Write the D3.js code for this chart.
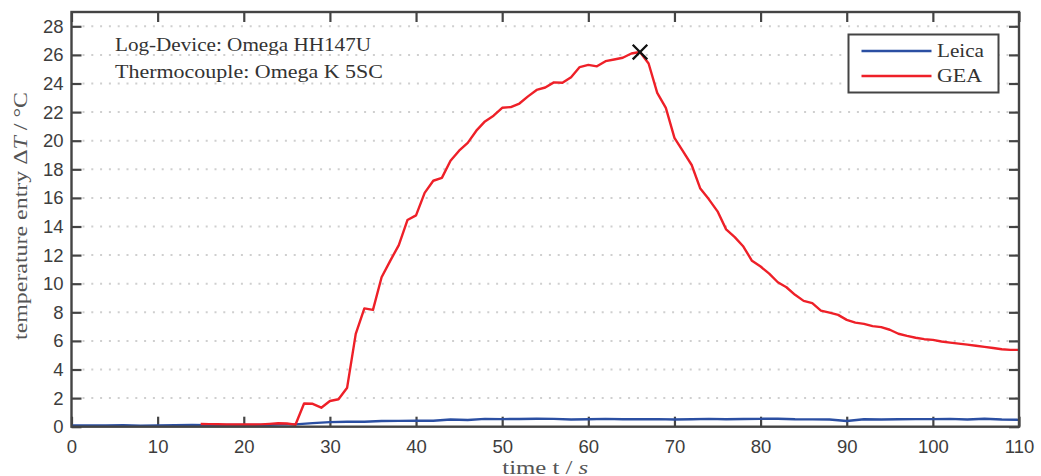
<!DOCTYPE html>
<html>
<head>
<meta charset="utf-8">
<script src="https://cdn.jsdelivr.net/npm/d3@7"></script>
<style>
  html, body { margin: 0; padding: 0; background: #fff; }
  svg { display: block; }
</style>
</head>
<body>
<svg id="chart" width="1041" height="476"></svg>
<script>
// ---- data ----
const leicaTime = [0,2,4,6,8,10,12,14,16,18,20,22,24,26,28,30,32,34,36,38,40,42,44,46,48,50,52,54,56,58,60,62,64,66,68,70,72,74,76,78,80,82,84,86,88,90,92,94,96,98,100,102,104,106,108,110];
const leicaTemp = [0.08,0.09,0.08,0.10,0.07,0.09,0.10,0.12,0.11,0.12,0.12,0.12,0.15,0.16,0.25,0.32,0.35,0.35,0.40,0.41,0.42,0.42,0.50,0.47,0.55,0.53,0.54,0.56,0.55,0.50,0.52,0.55,0.52,0.52,0.53,0.50,0.52,0.55,0.52,0.54,0.55,0.56,0.52,0.51,0.50,0.40,0.52,0.50,0.52,0.53,0.53,0.55,0.50,0.56,0.50,0.48];

const geaTime = [15,16,17,18,19,20,21,22,23,24,25,26,27,28,29,30,31,32,33,34,35,36,37,38,39,40,41,42,43,44,45,46,47,48,49,50,51,52,53,54,55,56,57,58,59,60,61,62,63,64,65,66,67,68,69,70,71,72,73,74,75,76,77,78,79,80,81,82,83,84,85,86,87,88,89,90,91,92,93,94,95,96,97,98,99,100,101,102,103,104,105,106,107,108,109,110];
const geaTemp = [0.19,0.18,0.17,0.15,0.15,0.15,0.15,0.16,0.20,0.24,0.22,0.14,1.62,1.60,1.33,1.80,1.92,2.73,6.49,8.27,8.17,10.45,11.6,12.7,14.45,14.78,16.35,17.2,17.4,18.6,19.3,19.85,20.7,21.35,21.75,22.3,22.35,22.6,23.1,23.55,23.72,24.08,24.05,24.44,25.15,25.3,25.2,25.56,25.68,25.8,26.1,26.2,25.4,23.35,22.3,20.2,19.26,18.3,16.65,15.9,15.06,13.8,13.26,12.6,11.6,11.2,10.7,10.1,9.75,9.22,8.8,8.64,8.12,7.98,7.82,7.47,7.28,7.19,7.03,6.96,6.78,6.5,6.35,6.22,6.12,6.07,5.96,5.88,5.81,5.74,5.66,5.58,5.5,5.42,5.37,5.37];

const peakTime = [66];
const peakTemp = [26.2];

const xTicks = [0,10,20,30,40,50,60,70,80,90,100,110];
const yTicks = [0,2,4,6,8,10,12,14,16,18,20,22,24,26,28];

const seriesNames = ["Leica", "GEA"];
const seriesColors = ["#2b4fa2", "#ee2028"];
const annotations = ["Log-Device: Omega HH147U", "Thermocouple: Omega K 5SC"];

// ---- layout ----
const L = 71.5, R = 1019, T = 12, B = 426.7;
const svg = d3.select("#chart");
const x = d3.scaleLinear().domain([0, 110]).range([L, R]);
const y = d3.scaleLinear().domain([0, 29]).range([B, T]);

const frameColor = "#444";
const sans = "'Liberation Sans', Arial, Helvetica, sans-serif";
const serif = "'Liberation Serif', 'Times New Roman', serif";

// grid (horizontal dotted)
svg.append("g").selectAll("line")
  .data(yTicks.filter(d => d > 0))
  .join("line")
  .attr("x1", L + 11).attr("x2", R - 1)
  .attr("y1", d => y(d)).attr("y2", d => y(d))
  .attr("stroke", "#cfcfcf").attr("stroke-width", 2)
  .attr("stroke-dasharray", "2,6.8");

// axes
function styleAxis(g, showLabels) {
  g.select(".domain").remove();
  g.selectAll(".tick line").attr("stroke", frameColor).attr("stroke-width", 2.2);
  g.selectAll(".tick text")
    .attr("fill", "#3d3d3d")
    .style("font-family", sans)
    .style("font-size", "18.5px");
  if (!showLabels) g.selectAll(".tick text").remove();
}

svg.append("g").attr("transform", `translate(0,${B})`)
  .call(d3.axisBottom(x).tickValues(xTicks).tickSize(-10).tickPadding(13).tickFormat(d3.format("d")))
  .call(g => styleAxis(g, true));
svg.append("g").attr("transform", `translate(0,${T})`)
  .call(d3.axisTop(x).tickValues(xTicks).tickSize(-10))
  .call(g => styleAxis(g, false));
svg.append("g").attr("transform", `translate(${L},0)`)
  .call(d3.axisLeft(y).tickValues(yTicks).tickSize(-10).tickPadding(8).tickFormat(d3.format("d")))
  .call(g => styleAxis(g, true));
svg.append("g").attr("transform", `translate(${R},0)`)
  .call(d3.axisRight(y).tickValues(yTicks).tickSize(-10))
  .call(g => styleAxis(g, false));

// lines
const line = d3.line().x(d => x(d[0])).y(d => y(d[1]));
svg.append("clipPath").attr("id", "clip")
  .append("rect").attr("x", L).attr("y", T).attr("width", R - L).attr("height", B - T);

svg.append("path")
  .datum(leicaTime.map((t, i) => [t, leicaTemp[i]]))
  .attr("d", line).attr("fill", "none")
  .attr("stroke", seriesColors[0]).attr("stroke-width", 2.4)
  .attr("stroke-linejoin", "round")
  .attr("clip-path", "url(#clip)");

svg.append("path")
  .datum(geaTime.map((t, i) => [t, geaTemp[i]]))
  .attr("d", line).attr("fill", "none")
  .attr("stroke", seriesColors[1]).attr("stroke-width", 2.4)
  .attr("stroke-linejoin", "round")
  .attr("clip-path", "url(#clip)");

// peak marker (x)
svg.append("path")
  .attr("d", d3.symbol(d3.symbolX, 140)())
  .attr("transform", `translate(${x(peakTime[0])},${y(peakTemp[0])})`)
  .attr("fill", "none").attr("stroke", "#111").attr("stroke-width", 2.3);

// frame
svg.append("rect")
  .attr("x", L).attr("y", T).attr("width", R - L).attr("height", B - T)
  .attr("fill", "none").attr("stroke", frameColor).attr("stroke-width", 2.4);

// annotations
svg.append("g").selectAll("text")
  .data(annotations)
  .join("text")
  .attr("x", 115)
  .attr("y", (d, i) => 50.7 + i * 27)
  .attr("textLength", (d, i) => i === 0 ? 256 : 268)
  .attr("lengthAdjust", "spacingAndGlyphs")
  .attr("fill", "#333")
  .style("font-family", serif)
  .style("font-size", "19.5px")
  .text(d => d);

// legend
const lg = svg.append("g");
lg.append("rect").attr("x", 848.5).attr("y", 34.5).attr("width", 150).attr("height", 58)
  .attr("fill", "#fff").attr("stroke", frameColor).attr("stroke-width", 2);
seriesNames.forEach((name, i) => {
  const yy = 51 + i * 25;
  lg.append("line").attr("x1", 861.5).attr("x2", 931.5).attr("y1", yy).attr("y2", yy)
    .attr("stroke", seriesColors[i]).attr("stroke-width", 2.4);
  lg.append("text").attr("x", 937).attr("y", yy + 5.5)
    .attr("textLength", i === 0 ? 47 : 45)
    .attr("lengthAdjust", "spacingAndGlyphs")
    .attr("fill", "#333")
    .style("font-family", serif).style("font-size", "19.5px")
    .text(name);
});

// axis labels
const yl = svg.append("text")
  .attr("transform", `translate(27,216) rotate(-90)`)
  .attr("text-anchor", "middle")
  .attr("textLength", 248)
  .attr("lengthAdjust", "spacingAndGlyphs")
  .attr("fill", "#555")
  .style("font-family", serif).style("font-size", "18.5px");
yl.append("tspan").text("temperature entry Δ");
yl.append("tspan").style("font-style", "italic").text("T");
yl.append("tspan").text("  /  °C");

const xl = svg.append("text")
  .attr("x", (L + R) / 2).attr("y", 473.5)
  .attr("text-anchor", "middle")
  .attr("textLength", 86)
  .attr("lengthAdjust", "spacingAndGlyphs")
  .attr("fill", "#555")
  .style("font-family", serif).style("font-size", "18.5px");
xl.append("tspan").text("time t  /  ");
xl.append("tspan").style("font-style", "italic").text("s");
</script>
</body>
</html>
